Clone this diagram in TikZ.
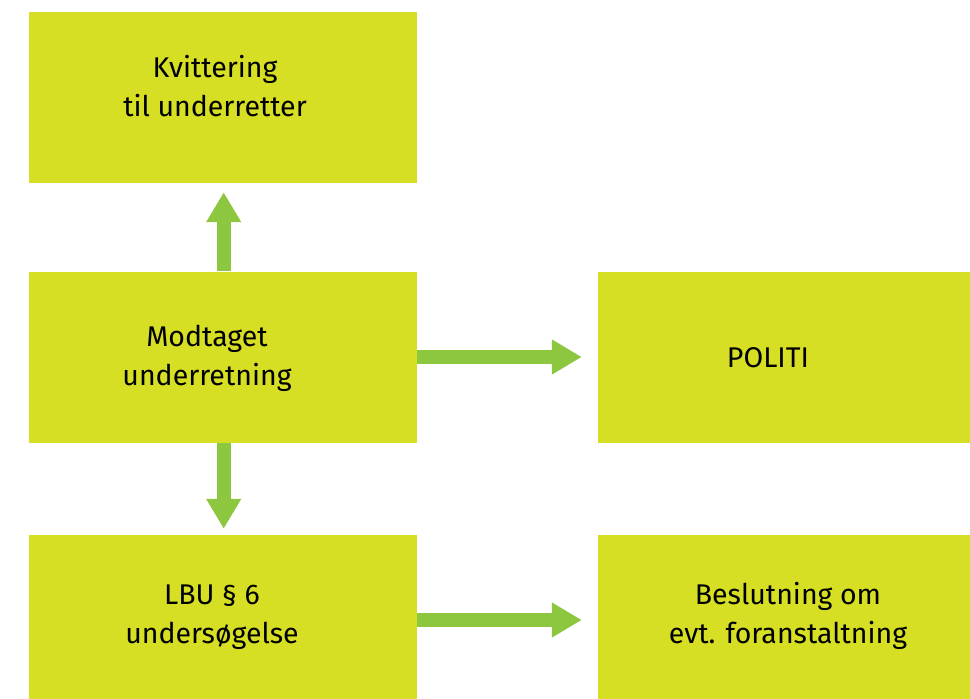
\documentclass[tikz,border=0pt]{standalone}
\usepackage{fontspec}
\setmainfont{Fira Sans}
\usetikzlibrary{arrows.meta}

\definecolor{boxyellow}{HTML}{D6DF23}
\definecolor{arrowgreen}{HTML}{8DC63F}

\begin{document}
\begin{tikzpicture}[x=1bp,y=-1bp]
    \tikzset{box/.style={fill=boxyellow,inner sep=0pt,minimum width=388bp,minimum height=171bp}}
    \tikzset{wbox/.style={box,minimum width=372bp}}
    \tikzset{txt/.style={font=\fontsize{28.5bp}{39bp}\selectfont,align=center,inner sep=0pt,anchor=base}}
    \tikzset{flow/.style={draw=arrowgreen,line width=14bp,-{Triangle[width=33bp,length=30bp]}}}
    \useasboundingbox (0,0) rectangle (970,699);
    % boxes
    \node[box] (kvit) at (223,97.5) {};
    \node[box] (modt) at (223,357) {};
    \node[box,minimum height=164bp] (lbu) at (223,617) {};
    \node[wbox] (politi) at (784,357) {};
    \node[wbox,minimum height=164bp] (besl) at (784,617) {};
    % texts (anchored at last baseline)
    \node[txt] (kvittxt) at (215,117) {Kvittering\\ til underretter};
    \node[txt] (modttxt) at (207,385) {Modtaget\\ underretning};
    \node[txt] (lbutxt) at (212,643) {LBU § 6\\ undersøgelse};
    \node[txt] (politxt) at (768,367) {POLITI};
    \node[txt] (besltxt) at (788,643) {Beslutning om\\ evt. foranstaltning};
    % arrows
    \draw[flow,shorten >=9bp] ([xshift=0.7bp]modt.north) -- ([xshift=0.7bp]kvit.south);
    \draw[flow,shorten >=6bp] ([xshift=0.7bp]modt.south) -- ([xshift=0.7bp]lbu.north);
    \draw[flow,shorten >=16bp] (modt.east) -- (politi.west);
    \draw[flow,shorten >=16bp] ([yshift=-3bp]lbu.east) -- ([yshift=-3bp]besl.west);
\end{tikzpicture}
\end{document}
